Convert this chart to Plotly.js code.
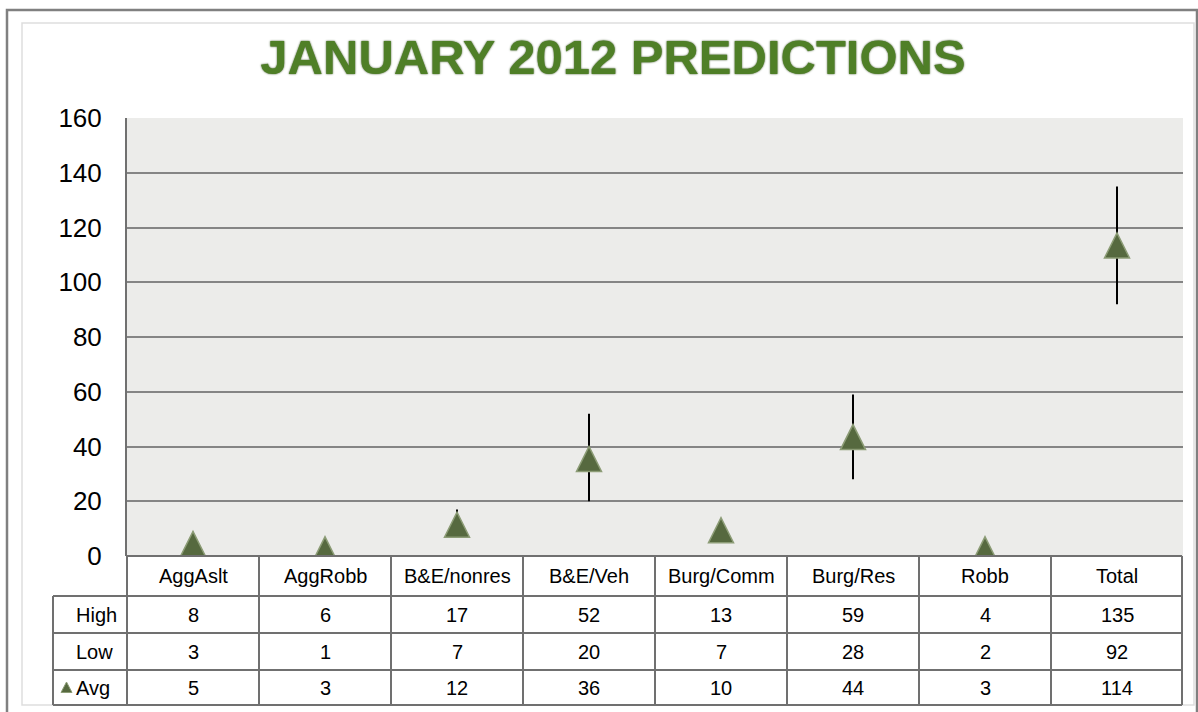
<!DOCTYPE html>
<html>
<head>
<meta charset="utf-8">
<script src="https://cdn.plot.ly/plotly-3.0.1.min.js"></script>
<style>html,body{margin:0;padding:0;background:#fff;}#chart{width:1198px;height:712px;}</style>
</head>
<body>
<div id="chart"></div>
<script>
const categories = ['AggAslt','AggRobb','B&E/nonres','B&E/Veh','Burg/Comm','Burg/Res','Robb','Total'];
const high = [8, 6, 17, 52, 13, 59, 4, 135];
const low  = [3, 1, 7, 20, 7, 28, 2, 92];
const avg  = [5, 3, 12, 36, 10, 44, 3, 114];
const rowLabels = ['High', 'Low', 'Avg'];
const yTicks = [0, 20, 40, 60, 80, 100, 120, 140, 160];

const W = 1198, H = 712;
const M = {l: 127, r: 15, t: 118, b: 156};
const PW = W - M.l - M.r, PH = H - M.t - M.b;
const px = x => (x - M.l) / PW;            // pixel x -> paper
const py = y => (H - M.b - y) / PH;        // pixel y -> paper
const esc = s => s.replace(/&/g, '&amp;');

const FONT = 'Liberation Sans, Arial, sans-serif';
const LINE = '#707070';
const idx = categories.map((c, i) => i);

const trace = {
  type: 'scatter',
  mode: 'markers',
  x: idx,
  y: avg,
  name: 'Avg',
  marker: {symbol: 'triangle-up', size: 20, color: 'rgba(0,0,0,0)'},
  error_y: {
    type: 'data', symmetric: false,
    array: high.map((h, i) => h - avg[i]),
    arrayminus: low.map((l, i) => avg[i] - l),
    color: '#000', thickness: 2, width: 0
  },
  hovertemplate: '%{text}: %{y}<extra></extra>',
  text: categories,
  showlegend: false
};

const shapes = [];
const annotations = [];

// markers (triangles anchored on data values)
idx.forEach(i => {
  shapes.push({
    type: 'path', xref: 'x', yref: 'y', xsizemode: 'pixel', ysizemode: 'pixel',
    xanchor: i, yanchor: avg[i],
    path: 'M-12.5,-14 L12.5,-14 L0,11 Z',
    fillcolor: '#56693f', line: {color: '#8c9c76', width: 1.5}, layer: 'above'
  });
});

// table
const tTop = 556, rowY = [596, 633, 670, 705], tLeft = 53, tRight = 1182;
const colW = PW / categories.length;
const hline = (x0, x1, y) => shapes.push({type: 'line', xref: 'paper', yref: 'paper',
  x0: px(x0), x1: px(x1), y0: py(y), y1: py(y), line: {color: LINE, width: 2}});
const vline = (x, y0, y1) => shapes.push({type: 'line', xref: 'paper', yref: 'paper',
  x0: px(x), x1: px(x), y0: py(y0), y1: py(y1), line: {color: LINE, width: 2}});

shapes.push({type: 'rect', xref: 'paper', yref: 'paper', x0: px(tLeft), x1: px(tRight),
  y0: py(rowY[0]), y1: py(rowY[3]), fillcolor: '#fff', line: {width: 0}, layer: 'below'});
shapes.push({type: 'rect', xref: 'paper', yref: 'paper', x0: px(M.l), x1: px(tRight),
  y0: py(tTop), y1: py(rowY[0]), fillcolor: '#fff', line: {width: 0}, layer: 'below'});

hline(M.l, tRight, tTop);
rowY.forEach(y => hline(tLeft, tRight, y));
vline(tLeft, rowY[0], rowY[3]);
for (let k = 0; k <= categories.length; k++) {
  vline(M.l + Math.min(k * colW, tRight - M.l), tTop, rowY[3]);
}

const rowVals = [high, low, avg];
const rowMid = [(rowY[0] + rowY[1]) / 2, (rowY[1] + rowY[2]) / 2, (rowY[2] + rowY[3]) / 2];
const TF = {family: FONT, size: 20, color: '#000'};

categories.forEach((c, i) => {
  annotations.push({xref: 'x', yref: 'paper', x: i, y: py((tTop + rowY[0]) / 2),
    text: esc(c), showarrow: false, xanchor: 'center', yanchor: 'middle', font: TF});
  rowVals.forEach((vals, r) => {
    annotations.push({xref: 'x', yref: 'paper', x: i, y: py(rowMid[r]),
      text: String(vals[i]), showarrow: false, xanchor: 'center', yanchor: 'middle', font: TF});
  });
});
rowLabels.forEach((lab, r) => {
  annotations.push({xref: 'paper', yref: 'paper', x: px(74), y: py(rowMid[r]),
    text: lab, showarrow: false, xanchor: 'left', yanchor: 'middle', font: TF});
});
// legend key in table
shapes.push({type: 'path', xref: 'paper', yref: 'paper', xsizemode: 'pixel', ysizemode: 'pixel',
  xanchor: px(66.5), yanchor: py(rowMid[2]),
  path: 'M-5.5,-5 L5.5,-5 L0,5.5 Z', fillcolor: '#56693f', line: {color: '#8c9c76', width: 1}});

// frame
shapes.push({type: 'rect', xref: 'paper', yref: 'paper', x0: px(7), x1: px(1197),
  y0: py(10), y1: py(730), line: {color: '#808080', width: 2.5}, fillcolor: 'rgba(0,0,0,0)'});
shapes.push({type: 'rect', xref: 'paper', yref: 'paper', x0: px(22), x1: px(1194),
  y0: py(23), y1: py(705), line: {color: '#dedede', width: 1.5}, fillcolor: 'rgba(0,0,0,0)', layer: 'below'});

const layout = {
  width: W, height: H,
  margin: M,
  paper_bgcolor: '#fff',
  plot_bgcolor: '#ececea',
  showlegend: false,
  title: {
    text: 'JANUARY 2012 PREDICTIONS',
    font: {family: FONT, size: 49, weight: 'bold', color: '#4f7f27', shadow: '0px 0px 2px #2f4a16'},
    xref: 'container', yref: 'container', x: 613 / W, y: 1 - 57 / H,
    xanchor: 'center', yanchor: 'middle'
  },
  xaxis: {
    type: 'linear', range: [-0.5, categories.length - 0.5],
    showgrid: false, zeroline: false, showticklabels: false, ticks: '', showline: false, fixedrange: true
  },
  yaxis: {
    range: [0, 160], tickvals: yTicks, ticktext: yTicks.map(String),
    showgrid: true, gridcolor: '#858585', gridwidth: 2,
    zeroline: false, showline: true, linecolor: LINE, linewidth: 2,
    ticks: '', ticklabelstandoff: 18,
    tickfont: {family: FONT, size: 26, color: '#000'}, fixedrange: true
  },
  shapes: shapes,
  annotations: annotations
};

Plotly.newPlot('chart', [trace], layout, {displayModeBar: false, staticPlot: false});
</script>
</body>
</html>
